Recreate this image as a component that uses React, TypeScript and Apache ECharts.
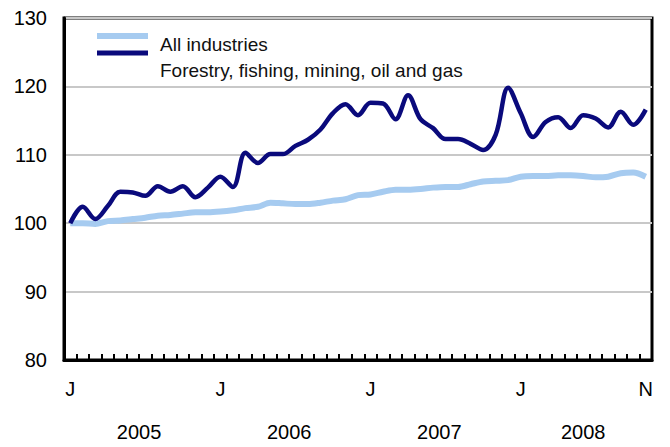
import React, { useEffect, useRef } from "react";
import * as echarts from "echarts";

const months = [
  "J","F","M","A","M","J","J","A","S","O","N","D",
  "J","F","M","A","M","J","J","A","S","O","N","D",
  "J","F","M","A","M","J","J","A","S","O","N","D",
  "J","F","M","A","M","J","J","A","S","O","N",
];
const labelIdx = [0, 12, 24, 36, 46];

const allIndustries = [
  100.0, 100.0, 99.9, 100.3, 100.4, 100.6, 100.8, 101.1, 101.2, 101.4, 101.6, 101.6,
  101.7, 101.9, 102.2, 102.4, 103.0, 102.9, 102.8, 102.8, 103.0, 103.3, 103.5, 104.1,
  104.2, 104.6, 104.9, 104.9, 105.0, 105.2, 105.3, 105.3, 105.7, 106.1, 106.2, 106.3,
  106.8, 106.9, 106.9, 107.0, 107.0, 106.9, 106.7, 106.8, 107.3, 107.4, 106.8,
];
const forestry = [
  100.0, 102.4, 100.6, 102.5, 104.6, 104.5, 104.0, 105.4, 104.6, 105.4, 103.8, 105.2,
  106.8, 105.3, 110.3, 108.8, 110.1, 110.1, 111.3, 112.2, 113.7, 116.1, 117.4, 115.8,
  117.6, 117.5, 115.2, 118.7, 115.2, 113.9, 112.3, 112.3, 111.6, 110.7, 112.9, 119.8,
  116.1, 112.6, 114.8, 115.5, 113.9, 115.8, 115.3, 114.0, 116.3, 114.4, 116.6,
];
const years = ["2005", "2006", "2007", "2008"];
const yearPos = [5.5, 17.5, 29.5, 41];
const seriesNames = ["All industries", "Forestry, fishing, mining, oil and gas"];

const FONT = "Liberation Sans, Arial, Helvetica, sans-serif";
const LIGHT = "#a6cbf0";
const DARK = "#0a0a7c";

export default function App() {
  const ref = useRef<HTMLDivElement>(null);
  useEffect(() => {
    if (!ref.current) return;
    const chart = echarts.init(ref.current, null, { renderer: "svg" });
    chart.setOption({
      animation: false,
      backgroundColor: "#fff",
      textStyle: { fontFamily: FONT },
      grid: {
        left: 64,
        right: 18,
        top: 18,
        bottom: 87,
        show: true,
        borderColor: "#000",
        borderWidth: 3,
      },
      xAxis: [
        {
          type: "category",
          data: months,
          boundaryGap: true,
          axisLine: { show: true, onZero: false, lineStyle: { color: "#000", width: 3 } },
          axisTick: {
            show: true,
            inside: true,
            interval: 0,
            length: 6,
            lineStyle: { color: "#000", width: 2 },
          },
          axisLabel: {
            interval: (i: number) => labelIdx.includes(i),
            color: "#000",
            fontSize: 20,
            fontFamily: FONT,
            margin: 19,
          },
          splitLine: { show: false },
        },
        {
          type: "value",
          min: -0.5,
          max: 46.5,
          position: "bottom",
          axisLine: { show: false, onZero: false },
          axisTick: { show: false },
          splitLine: { show: false },
          axisLabel: {
            customValues: yearPos,
            formatter: (v: number) => {
              const k = yearPos.indexOf(v);
              return k >= 0 ? years[k] : "";
            },
            color: "#000",
            fontSize: 20,
            fontFamily: FONT,
            margin: 62,
          },
        },
      ],
      yAxis: {
        type: "value",
        min: 80,
        max: 130,
        interval: 10,
        axisLine: { show: true, onZero: false, lineStyle: { color: "#000", width: 3 } },
        axisTick: { show: false },
        axisLabel: { color: "#000", fontSize: 20, fontFamily: FONT, margin: 17 },
        splitLine: { show: true, lineStyle: { color: "#c8c8c8", width: 2 } },
      },
      graphic: [
        {
          type: "line",
          shape: { x1: 97, y1: 36, x2: 148, y2: 36 },
          style: { stroke: LIGHT, lineWidth: 6 },
        },
        {
          type: "line",
          shape: { x1: 97, y1: 53, x2: 148, y2: 53 },
          style: { stroke: DARK, lineWidth: 5 },
        },
        {
          type: "text",
          x: 160,
          y: 44.5,
          style: {
            text: seriesNames[0],
            fontSize: 19,
            fontFamily: FONT,
            fill: "#111",
            verticalAlign: "middle",
          },
        },
        {
          type: "text",
          x: 160,
          y: 70.3,
          style: {
            text: seriesNames[1],
            fontSize: 19,
            fontFamily: FONT,
            fill: "#111",
            verticalAlign: "middle",
          },
        },
      ],
      series: [
        {
          name: seriesNames[0],
          type: "line",
          xAxisIndex: 0,
          data: allIndustries,
          showSymbol: false,
          smooth: 0.3,
          lineStyle: { color: LIGHT, width: 6 },
          z: 2,
        },
        {
          name: seriesNames[1],
          type: "line",
          xAxisIndex: 0,
          data: forestry,
          showSymbol: false,
          smooth: 0.35,
          lineStyle: { color: DARK, width: 4.5 },
          z: 3,
        },
      ],
    });
    return () => chart.dispose();
  }, []);
  return (
    <div
      ref={ref}
      style={{ position: "fixed", left: 0, top: 0, width: 670, height: 447 }}
    />
  );
}
